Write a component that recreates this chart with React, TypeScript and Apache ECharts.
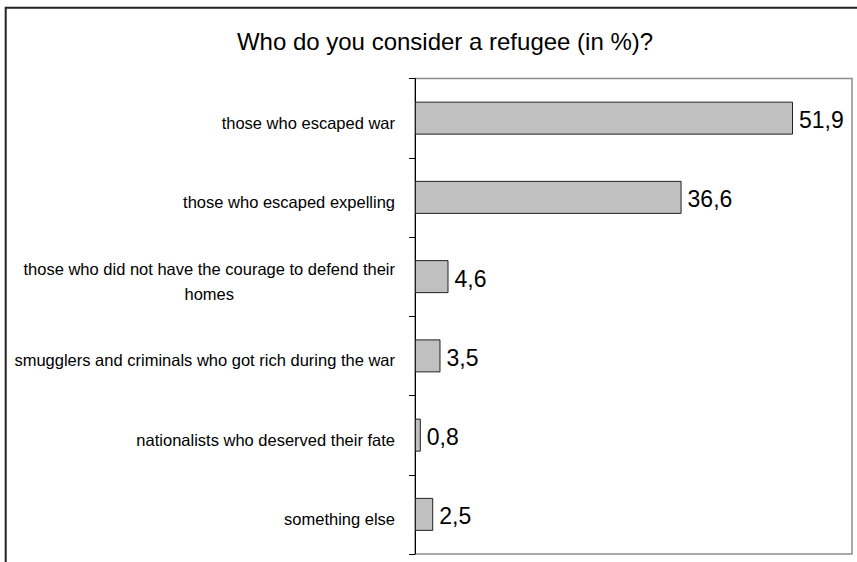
import React, { useEffect, useRef } from "react";
import * as echarts from "echarts";

const TITLE = "Who do you consider a refugee (in %)?";

const categories: string[] = [
  "those who escaped war",
  "those who escaped expelling",
  "those who did not have the courage to defend their\nhomes",
  "smugglers and criminals who got rich during the war",
  "nationalists who deserved their fate",
  "something else",
];

const values: number[] = [51.9, 36.6, 4.6, 3.5, 0.8, 2.5];

const xMin = 0;
const xMax = 60;

const FONT = "Arial, 'Liberation Sans', Helvetica, sans-serif";

export default function App() {
  const ref = useRef<HTMLDivElement>(null);

  useEffect(() => {
    if (!ref.current) return;
    const chart = echarts.init(ref.current, undefined, { renderer: "svg" });
    chart.setOption({
      animation: false,
      backgroundColor: "#ffffff",
      title: {
        text: TITLE,
        left: 440,
        top: 24,
        textAlign: "center",
        textStyle: {
          fontFamily: FONT,
          fontSize: 24,
          fontWeight: "normal",
          color: "#000",
        },
      },
      graphic: [
        {
          type: "rect",
          shape: { x: 5.7, y: 7.7, width: 1000, height: 700 },
          style: { fill: "none", stroke: "#222", lineWidth: 2 },
          silent: true,
        },
      ],
      grid: {
        left: 415,
        right: 5,
        top: 78.5,
        bottom: 8,
        show: true,
        borderColor: "#8c8c8c",
        borderWidth: 1.5,
        backgroundColor: "transparent",
      },
      xAxis: {
        type: "value",
        min: xMin,
        max: xMax,
        show: false,
        splitLine: { show: false },
      },
      yAxis: {
        type: "category",
        inverse: true,
        data: categories,
        axisLine: { show: true, lineStyle: { color: "#000", width: 1 } },
        axisTick: {
          show: true,
          inside: false,
          length: 6,
          alignWithLabel: false,
          lineStyle: { color: "#000", width: 1 },
        },
        axisLabel: {
          margin: 20,
          color: "#000",
          fontFamily: FONT,
          fontSize: 16.5,
          padding: [9, 0, 0, 0],
          formatter: (v: string) =>
            v
              .split("\n")
              .map((l) => `{c|${l}}`)
              .join("\n"),
          rich: {
            c: {
              align: "center",
              fontFamily: FONT,
              fontSize: 16.5,
              lineHeight: 25,
              color: "#000",
            },
          },
        },
        splitLine: { show: false },
      },
      series: [
        {
          type: "bar",
          data: values,
          barWidth: 33,
          itemStyle: {
            color: "#c0c0c0",
            borderColor: "#222",
            borderWidth: 1,
          },
          label: {
            show: true,
            position: "right",
            distance: 6,
            offset: [0, 2],
            color: "#000",
            fontFamily: FONT,
            fontSize: 23,
            formatter: (p: any) => Number(p.value).toFixed(1).replace(".", ","),
          },
        },
      ],
    });
    return () => chart.dispose();
  }, []);

  return (
    <div
      ref={ref}
      style={{ position: "absolute", left: 0, top: 0, width: 857, height: 562 }}
    />
  );
}
